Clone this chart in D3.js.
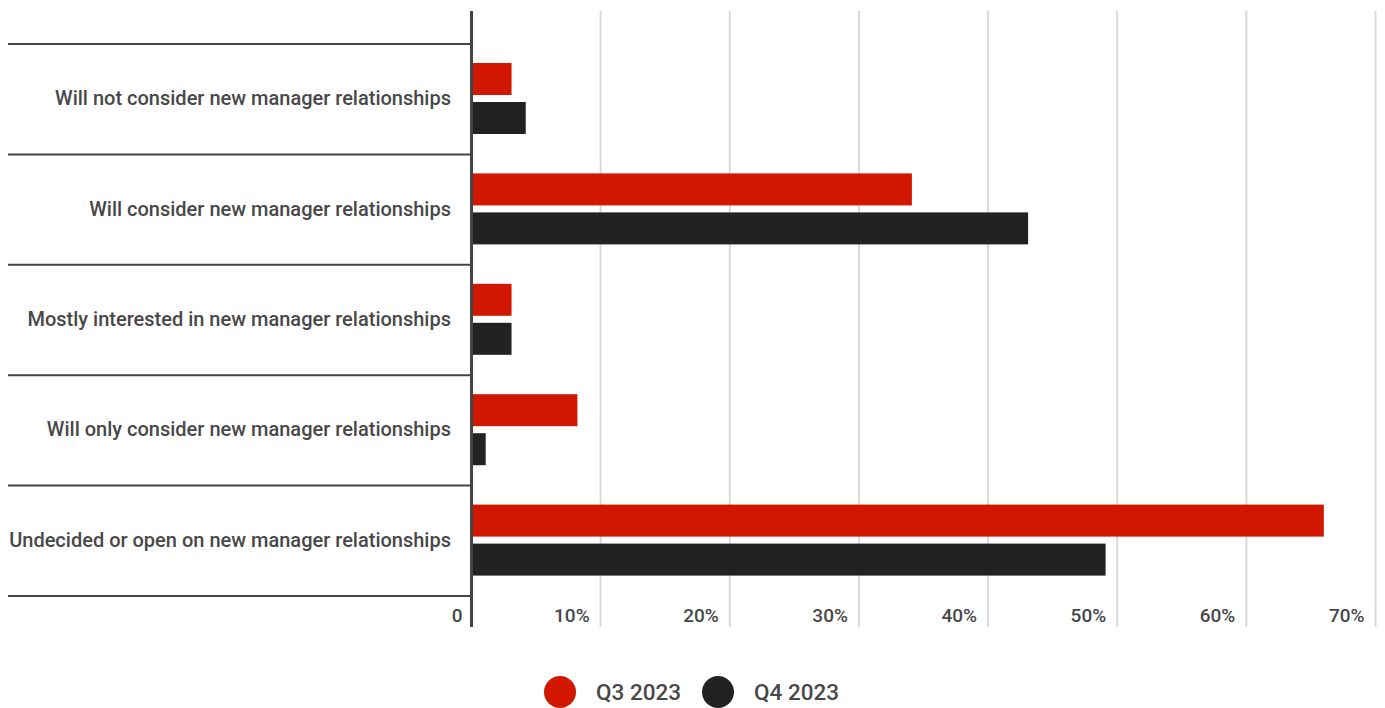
<!DOCTYPE html>
<html><head><meta charset="utf-8">
<script src="https://cdn.jsdelivr.net/npm/d3@7"></script>
<style>html,body{margin:0;padding:0;background:#fff;}svg{display:block;font-family:Roboto,sans-serif;}</style>
</head><body>
<svg id="chart" width="1385" height="708"></svg>
<script>
const categories = [
  "Will not consider new manager relationships",
  "Will consider new manager relationships",
  "Mostly interested in new manager relationships",
  "Will only consider new manager relationships",
  "Undecided or open on new manager relationships"
];
const seriesNames = ["Q3 2023", "Q4 2023"];
const q3Values = [3.1, 34.1, 3.1, 8.2, 66.0];
const q4Values = [4.2, 43.1, 3.1, 1.1, 49.1];
const tickValues = [0, 10, 20, 30, 40, 50, 60, 70];
const tickLabels = ["0", "10%", "20%", "30%", "40%", "50%", "60%", "70%"];
const colors = ["#d21700", "#222222"];
const textColor = "#484848";

const svg = d3.select("#chart");
const x0 = 471.5, x1 = 1375.5, yTop = 44, yBot = 596;
const x = d3.scaleLinear().domain([0, 70]).range([x0, x1]);
const y = d3.scaleBand().domain(categories).range([yTop, yBot]).paddingInner(0).paddingOuter(0);
const yInner = d3.scaleBand().domain(seriesNames).range([19, 90]).paddingInner(7 / 39);

// gridlines
svg.append("g").selectAll("line").data(tickValues.slice(1)).join("line")
  .attr("x1", d => x(d)).attr("x2", d => x(d))
  .attr("y1", 11).attr("y2", 627)
  .attr("stroke", "#d9d9d9").attr("stroke-width", 2);

// band separators
const seps = categories.map(c => y(c)).concat([yBot]);
svg.append("g").selectAll("line").data(seps).join("line")
  .attr("x1", 8).attr("x2", x0).attr("y1", d => d).attr("y2", d => d)
  .attr("stroke", "#444").attr("stroke-width", 2);

// bars
const data = categories.map((c, i) => ({c, vals: [q3Values[i], q4Values[i]]}));
const g = svg.append("g");
data.forEach(d => {
  d.vals.forEach((v, j) => {
    g.append("rect")
      .attr("x", x(0) + 1.5)
      .attr("y", y(d.c) + yInner(seriesNames[j]))
      .attr("width", Math.max(0, x(v) - x(0) - 1.5))
      .attr("height", yInner.bandwidth())
      .attr("fill", colors[j]);
  });
});

// axis line
svg.append("line").attr("x1", x0).attr("x2", x0).attr("y1", 11).attr("y2", 627)
  .attr("stroke", "#444").attr("stroke-width", 3);

// category labels
svg.append("g").selectAll("text").data(categories).join("text")
  .attr("x", 451).attr("y", d => y(d) + y.bandwidth() / 2 - 1)
  .attr("text-anchor", "end").attr("dominant-baseline", "central")
  .attr("font-size", 20).attr("font-weight", 500).attr("fill", textColor).text(d => d);

// tick labels
svg.append("g").selectAll("text").data(tickValues).join("text")
  .attr("x", (d, i) => x(d) - (i === 0 ? 9 : 11))
  .attr("y", 615)
  .attr("text-anchor", "end").attr("dominant-baseline", "central")
  .attr("font-size", 19).attr("font-weight", 500).attr("fill", textColor)
  .text((d, i) => tickLabels[i]);

// legend
const legend = svg.append("g");
const legX = [560, 718];
seriesNames.forEach((s, i) => {
  legend.append("circle").attr("cx", legX[i]).attr("cy", 692).attr("r", 16).attr("fill", colors[i]);
  legend.append("text").attr("x", legX[i] + 36).attr("y", 692)
    .attr("dominant-baseline", "central").attr("font-size", 22.5).attr("font-weight", 500)
    .attr("fill", textColor).text(s);
});
</script>
</body></html>
